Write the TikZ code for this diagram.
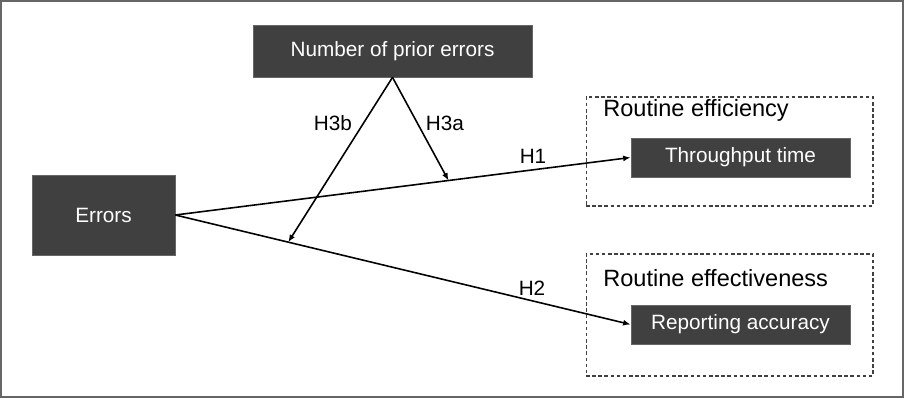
\documentclass[tikz,border=0pt]{standalone}
\usepackage{fontspec}
\setmainfont{Liberation Sans}
\usepackage{xcolor}
\definecolor{boxgray}{HTML}{404040}
\usepackage{tikz}
\usetikzlibrary{arrows.meta, positioning}

\begin{document}
\begin{tikzpicture}[x=0.02cm, y=-0.02cm,
    bx/.style={rectangle, draw=boxgray!80, fill=boxgray, text=white,
               font=\fontsize{11.8}{14}\selectfont, inner sep=0pt},
    grp/.style={rectangle, draw=black!75, line width=0.6pt,
                dash pattern=on 2pt off 1.5pt, inner sep=0pt},
    lbl/.style={anchor=base, font=\fontsize{11.8}{14}\selectfont, inner sep=0pt},
    ttl/.style={anchor=base west, font=\fontsize{13.4}{16}\selectfont, inner sep=0pt},
    a/.style={-{Latex[length=1.5mm, width=1.2mm]}, draw=black, line width=0.9pt}]
  \useasboundingbox (0,0) rectangle (904,399);
  \draw[black!60, line width=1pt] (1,1) rectangle (903,397);
  % boxes
  \node[bx, minimum width=5.58cm, minimum height=1.04cm] (prior) at (392.5,51) {Number of prior errors};
  \node[bx, minimum width=2.86cm, minimum height=1.60cm] (err) at (103.5,215) {Errors};
  \node[grp, minimum width=5.74cm, minimum height=2.18cm] (eff) at (729.5,151.5) {};
  \node[grp, minimum width=5.74cm, minimum height=2.44cm] (effv) at (729.5,315) {};
  \node[bx, minimum width=4.38cm, minimum height=0.78cm] (thr) at (740.5,157.5) {Throughput time};
  \node[bx, minimum width=4.38cm, minimum height=0.78cm] (rep) at (740.5,324.5) {Reporting accuracy};
  \node[ttl] (efft) at (603,116) {Routine efficiency};
  \node[ttl] (effvt) at (603,286) {Routine effectiveness};
  % paths
  \draw[a] (err.east) -- coordinate[pos=0.6] (m1) (thr.west);
  \draw[a] (err.east) -- coordinate[pos=0.248] (m2) (rep.west);
  \draw[a] (prior.south) -- (m1);
  \draw[a] (prior.south) -- (m2);
  \node[lbl] (h1) at (533,163) {H1};
  \node[lbl] (h2) at (532,295) {H2};
  \node[lbl] (h3a) at (445,131) {H3a};
  \node[lbl] (h3b) at (333,131) {H3b};
\end{tikzpicture}
\end{document}
